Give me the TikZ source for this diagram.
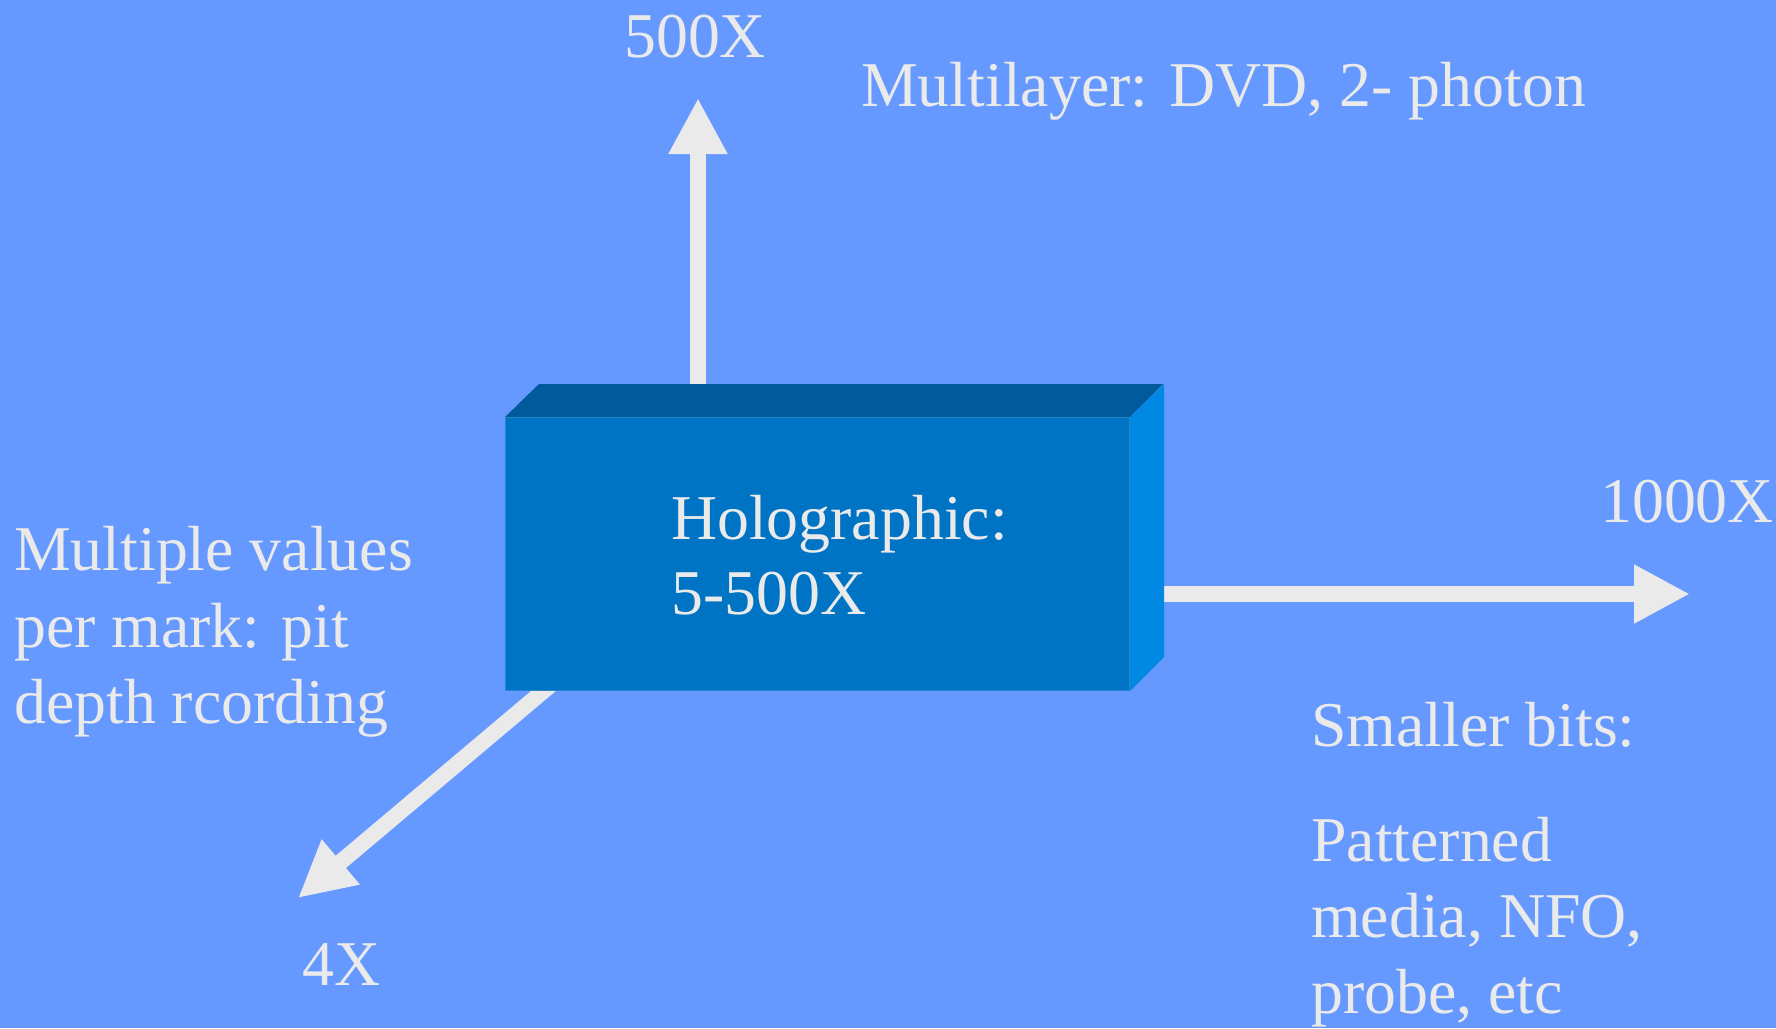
\documentclass[tikz,border=0pt]{standalone}
\usepackage{fontspec}
\setmainfont{Liberation Serif}
\usetikzlibrary{arrows.meta}
\definecolor{bg}{HTML}{6699FF}
\definecolor{txt}{HTML}{EAEAEA}
\definecolor{boxfront}{HTML}{0074C4}
\definecolor{boxtop}{HTML}{005A9C}
\definecolor{boxside}{HTML}{0088E2}
\begin{document}
\begin{tikzpicture}[x=1pt,y=-1pt,
  lbl/.style={text=txt,inner sep=0pt,anchor=base west,font=\fontsize{63.8}{76}\selectfont},
  bigarrow/.style={draw=txt,line width=16pt,-{Triangle[length=56pt,width=55pt]}}]
\fill[bg] (0,0) rectangle (1776,1028);
\useasboundingbox (0,0) rectangle (1776,1028);
% arrow ends
\coordinate (upS) at (698,450);
\coordinate (upE) at (698,98);
\coordinate (rtS) at (1100,594);
\coordinate (rtE) at (1690,594);
\coordinate (dgS) at (592,650);
\coordinate (dgE) at (298,898);
\draw[bigarrow] (upS) -- (upE);
\draw[bigarrow] (rtS) -- (rtE);
\draw[bigarrow] (dgS) -- (dgE);
% box
\node[fill=boxfront,draw=boxfront!85!white,line width=1pt,minimum width=624pt,minimum height=273pt,inner sep=0pt,anchor=north west] (box) at (505,417) {};
\fill[boxtop] (box.north west) -- ++(34,-33) -- ++(624,0) -- (box.north east) -- cycle;
\fill[boxside] (box.north east) -- ++(34,-33) -- ++(0,273) -- (box.south east) -- cycle;
% texts
\node[lbl] (holo1) at (671,539) {Holographic:};
\node[lbl] (holo2) at (671,614) {5-500X};
\node[lbl] (t500) at (624,57) {500X};
\node[lbl] (multi) at (861,106) {Multilayer: DVD, 2- photon};
\node[lbl] (t1000) at (1600,522) {1000X};
\node[lbl] (mv1) at (14,570) {Multiple values};
\node[lbl] (mv2) at (14,647) {per mark: pit};
\node[lbl] (mv3) at (14,723) {depth rcording};
\node[lbl] (t4) at (302,985) {4X};
\node[lbl] (sb) at (1311,746) {Smaller bits:};
\node[lbl] (pm1) at (1311,861) {Patterned};
\node[lbl] (pm2) at (1311,937) {media, NFO,};
\node[lbl] (pm3) at (1311,1013) {probe, etc};
\end{tikzpicture}
\end{document}
